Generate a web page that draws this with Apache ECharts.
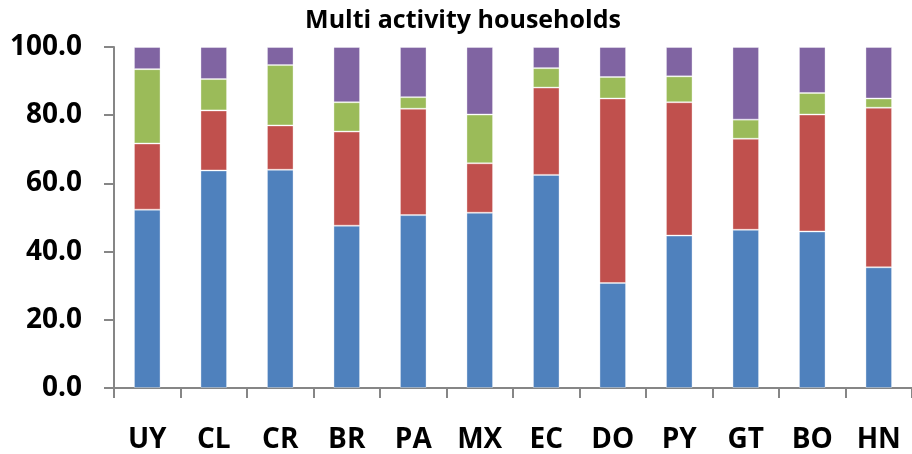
<!DOCTYPE html>
<html><head><meta charset="utf-8">
<script src="https://cdn.jsdelivr.net/npm/echarts@6/dist/echarts.min.js"></script>
<style>html,body{margin:0;padding:0;background:#fff}#c{width:912px;height:454px}</style>
</head><body><div id="c"></div>
<script>
const categories = ['UY','CL','CR','BR','PA','MX','EC','DO','PY','GT','BO','HN'];
const seriesA = [52.3, 63.8, 64.0, 47.6, 50.7, 51.4, 62.5, 30.8, 44.7, 46.4, 45.9, 35.4];
const seriesB = [19.4, 17.6, 13.0, 27.6, 31.2, 14.5, 25.6, 54.1, 39.1, 26.7, 34.3, 46.8];
const seriesC = [21.8, 9.2, 17.7, 8.6, 3.4, 14.3, 5.7, 6.3, 7.6, 5.6, 6.3, 2.7];
const seriesD = [6.5, 9.4, 5.3, 16.2, 14.7, 19.8, 6.2, 8.8, 8.6, 21.3, 13.5, 15.1];
const colors = ['#4F81BD','#C0504D','#9BBB59','#8064A2'];
const titleText = 'Multi activity households';

const font = '"Open Sans", "Liberation Sans", sans-serif';
const chart = echarts.init(document.getElementById('c'), null, {renderer:'canvas'});
function mk(name, data, i){
  return {name, type:'bar', stack:'s', data, barCategoryGap:'60%',
    itemStyle:{color:colors[i], borderColor:'rgba(255,255,255,0.35)', borderWidth:1}};
}
chart.setOption({
  animation:false,
  title:{text:titleText, left:458, textAlign:'center', top:3,
    textStyle:{fontFamily:font, fontWeight:'bold', fontSize:25, color:'#000'}},
  grid:{left:114, right:0, top:47, bottom:64, containLabel:false},
  xAxis:{type:'category', data:categories,
    axisLine:{lineStyle:{color:'#868686', width:2}},
    axisTick:{show:true, length:10, lineStyle:{color:'#868686', width:2}},
    axisLabel:{margin:38, fontFamily:font, fontWeight:'bold', fontSize:28, color:'#000'}},
  yAxis:{type:'value', min:0, max:100, interval:20,
    axisLine:{show:true, lineStyle:{color:'#868686', width:2}},
    axisTick:{show:true, length:10, lineStyle:{color:'#868686', width:2}},
    splitLine:{show:false},
    axisLabel:{margin:32, fontFamily:font, fontWeight:'bold', fontSize:28, color:'#000',
      formatter:v=>v.toFixed(1)}},
  series:[mk('A',seriesA,0), mk('B',seriesB,1), mk('C',seriesC,2), mk('D',seriesD,3)]
});
</script></body></html>
